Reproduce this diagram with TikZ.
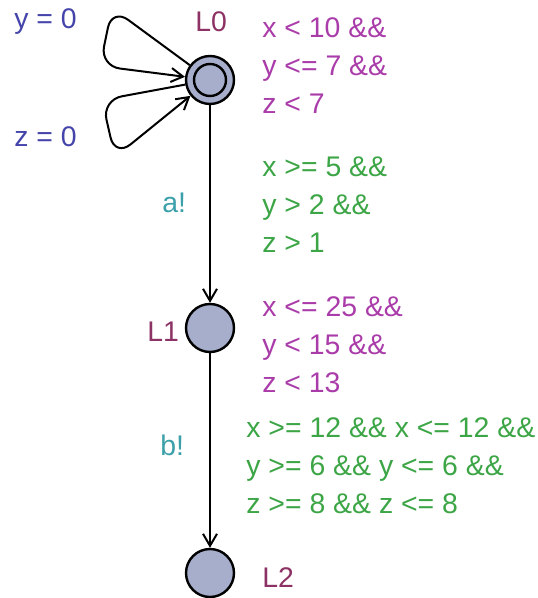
\documentclass[tikz,border=0pt]{standalone}
\usepackage{fontspec}
\setmainfont{Liberation Sans}
\usepackage{xcolor}
\usetikzlibrary{arrows.meta,positioning}
\definecolor{locname}{RGB}{140,50,100}
\definecolor{invcol}{RGB}{170,60,170}
\definecolor{grdcol}{RGB}{60,165,70}
\definecolor{synccol}{RGB}{60,160,170}
\definecolor{updcol}{RGB}{68,68,170}
\definecolor{locfill}{RGB}{166,174,204}
\tikzset{
  loc/.style   ={circle, draw, line width=1.2pt, fill=locfill, minimum size=24pt, inner sep=0pt},
  inner/.style ={circle, draw, line width=1.2pt, minimum size=16pt, inner sep=0pt},
  txt/.style   ={inner sep=0pt, anchor=west, align=left, font=\fontsize{14.2}{19}\selectfont},
  nm/.style    ={txt, text=locname},
  inv/.style   ={txt, text=invcol},
  grd/.style   ={txt, text=grdcol},
  sync/.style  ={txt, text=synccol},
  upd/.style   ={txt, text=updcol},
  arr/.style   ={-{Straight Barb[length=6pt,width=7pt]}, line width=1pt},
}
\begin{document}
\begin{tikzpicture}[x=0.5pt, y=-0.5pt]
  \useasboundingbox (0,0) rectangle (537,598);
  % locations
  \node[loc] (l0) at (210,80) {};
  \node[inner] (l0i) at (l0) {};
  \node[loc] (l1) at (210,328) {};
  \node[loc] (l2) at (210,573) {};
  % names
  \node[nm] (n0) at (195,22) {L0};
  \node[nm] (n1) at (147,332) {L1};
  \node[nm] (n2) at (262,578) {L2};
  % invariants
  \node[inv] (i0) at (262,66) {x < 10 \&\&\\y <= 7 \&\&\\z < 7};
  \node[inv] (i1) at (262,345) {x <= 25 \&\&\\y < 15 \&\&\\z < 13};
  % self loops on L0
  \coordinate (c1) at (112,8);
  \coordinate (c2) at (100,66);
  \coordinate (d1) at (102,100);
  \coordinate (d2) at (115,157);
  \draw[arr, rounded corners=10pt] (l0) -- (c1) -- (c2) -- (l0);
  \draw[arr, rounded corners=10pt] (l0) -- (d1) -- (d2) -- (l0);
  \node[upd] (u1) at (14,22) {y = 0};
  \node[upd] (u2) at (14,137) {z = 0};
  % edges
  \draw[arr] (l0) -- (l1);
  \draw[arr] (l1) -- (l2);
  \node[sync] (s1) at (162,203) {a!};
  \node[grd] (g1) at (262,205) {x >= 5 \&\&\\y > 2 \&\&\\z > 1};
  \node[sync] (s2) at (160,445) {b!};
  \node[grd] (g2) at (246,466) {x >= 12 \&\& x <= 12 \&\&\\y >= 6 \&\& y <= 6 \&\&\\z >= 8 \&\& z <= 8};
\end{tikzpicture}
\end{document}
